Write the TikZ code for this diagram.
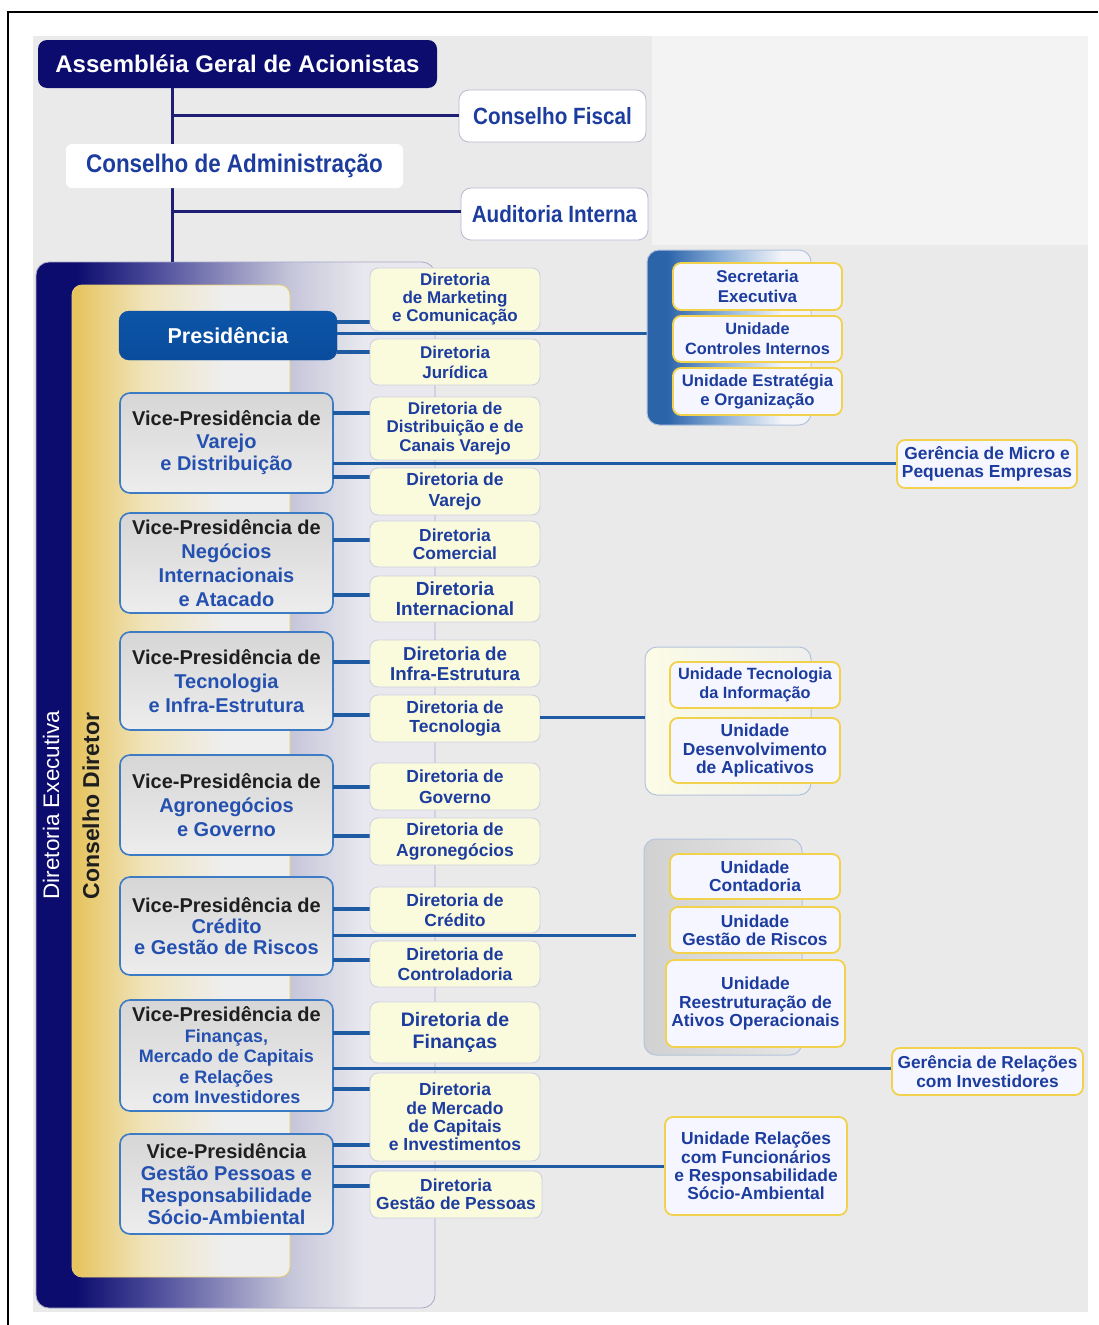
\documentclass[tikz,border=0pt]{standalone}
\usepackage{fontspec}
\setmainfont{Liberation Sans}
\newfontfamily\condsans[FakeStretch=0.88]{Liberation Sans}

\definecolor{bggray}{HTML}{EAEAEA}
\definecolor{bglight}{HTML}{F3F3F3}
\definecolor{navy}{HTML}{0C0C6E}
\definecolor{navymid}{HTML}{5454A0}
\definecolor{lavender}{HTML}{C6C6DA}
\definecolor{execlight}{HTML}{E8E8EE}
\definecolor{execedge}{HTML}{A8A8C8}
\definecolor{gold}{HTML}{E6C460}
\definecolor{goldlight}{HTML}{F0E4BC}
\definecolor{goldedge}{HTML}{E8CC70}
\definecolor{panelgray}{HTML}{EEEEEE}
\definecolor{presblue}{HTML}{0C55A8}
\definecolor{presblueb}{HTML}{0A4C9C}
\definecolor{vpedge}{HTML}{3D7CC4}
\definecolor{vptop}{HTML}{D6D6D6}
\definecolor{vpbottom}{HTML}{EDEDED}
\definecolor{dircream}{HTML}{FAFADC}
\definecolor{diredge}{HTML}{D0D0E4}
\definecolor{unitfill}{HTML}{F5F6FF}
\definecolor{unitedge}{HTML}{F2D24C}
\definecolor{linkblue}{HTML}{1F5BA3}
\definecolor{trunknavy}{HTML}{1E1E74}
\definecolor{textblue}{HTML}{1C3C9E}
\definecolor{vpblue}{HTML}{2450B0}
\definecolor{vpblack}{HTML}{1E1E1E}
\definecolor{grpblue}{HTML}{2C64AA}
\definecolor{grpmid}{HTML}{8CB0D8}
\definecolor{grplight}{HTML}{F2F4F8}
\definecolor{grpedge}{HTML}{B4C4DC}
\definecolor{topedge}{HTML}{B8B8D0}

% panel shadings (25bp..75bp span the filled path)
\pgfdeclarehorizontalshading{execshade}{100bp}{color(0bp)=(navy); color(30bp)=(navy); color(41bp)=(navymid); color(57bp)=(lavender); color(66bp)=(execlight); color(100bp)=(execlight)}
\pgfdeclarehorizontalshading{cdshade}{100bp}{color(0bp)=(gold); color(26bp)=(gold); color(42bp)=(goldlight); color(60bp)=(panelgray); color(100bp)=(panelgray)}
\pgfdeclarehorizontalshading{secshade}{100bp}{color(0bp)=(grpblue); color(31bp)=(grpblue); color(48bp)=(grpmid); color(66bp)=(grplight); color(100bp)=(grplight)}

\tikzset{
  corners/.style args={#1/#2/#3/#4}{minimum width={(#3)-(#1)}, minimum height={(#4)-(#2)},
    at={({((#1)+(#3))/2},{((#2)+(#4))/2})}},
  fs/.style 2 args={font=\bfseries\fontsize{#1}{#2}\selectfont},
  basebox/.style={rectangle, inner sep=0pt, outer sep=0pt, align=center},
  asmbox/.style={basebox, fill=navy, rounded corners=9pt, text=white, fs={24}{26}},
  topbox/.style={basebox, fill=white, draw=topedge, line width=0.8pt, rounded corners=10pt,
    text=textblue, font=\condsans\bfseries\fontsize{23.5}{26}\selectfont},
  adminbox/.style={basebox, fill=white, rounded corners=6pt,
    text=textblue, font=\condsans\bfseries\fontsize{25.5}{28}\selectfont},
  execpanel/.style={basebox, shading=execshade, draw=execedge, line width=0.8pt, rounded corners=13pt},
  cdpanel/.style={basebox, shading=cdshade, draw=goldedge, line width=0.8pt, rounded corners=10pt},
  presbox/.style={basebox, top color=presblue, bottom color=presblueb, draw=presblueb,
    rounded corners=10pt, text=white, fs={21.5}{24}},
  vpbox/.style={basebox, top color=vptop, bottom color=vpbottom, draw=vpedge, line width=1.6pt,
    rounded corners=10pt, text=vpblue},
  dirbox/.style={basebox, fill=dircream, draw=diredge, line width=0.9pt, rounded corners=8pt,
    text=textblue},
  unitbox/.style={basebox, fill=unitfill, draw=unitedge, line width=1.8pt, rounded corners=8pt,
    text=textblue},
  grppanel/.style={basebox, draw=grpedge, line width=1pt, rounded corners=12pt},
  stub/.style={draw=linkblue, line width=3.5pt},
  linkline/.style={draw=linkblue, line width=3pt},
  trunk/.style={draw=trunknavy, line width=3pt},
  vphead/.style={text=vpblack},
}

\begin{document}
\begin{tikzpicture}[x=1pt,y=-1pt]
\useasboundingbox (0,0) rectangle (1098,1325);
\fill[white] (0,0) rectangle (1098,1325);
\draw[line width=2pt, black] (8,1325) -- (8,12) -- (1098,12);
\fill[bggray] (33,36) rectangle (1088,1312);
\fill[bglight] (652,36) rectangle (1088,245);

% governance at the top
\node[asmbox, corners=38/40/437/88] (asm) {Assembléia Geral de Acionistas};
\node[execpanel, corners=36/262/435/1308] (exec) {};
\node[cdpanel, corners=72/285/290/1277] (cd) {};

\coordinate (tfiscal) at (172,115);
\coordinate (taudit) at (172,211);
\draw[trunk] (asm.south -| tfiscal) -- (exec.north -| tfiscal);

\node[topbox, corners=459/90/646/142] (fiscal) {Conselho Fiscal};
\node[adminbox, corners=66/144/403/188] (admin) {Conselho de Administração};
\node[topbox, corners=461/188/648/240] (audit) {Auditoria Interna};
\draw[trunk] (tfiscal) -- (fiscal.west |- tfiscal);
\draw[trunk] (taudit) -- (audit.west |- taudit);

% side labels of the executive panels
\node[rotate=90, text=white, font=\fontsize{22.5}{24}\selectfont, inner sep=0pt] (dexlabel) at (51,805) {Diretoria Executiva};
\node[rotate=90, text=vpblack, fs={23}{24}, inner sep=0pt] (cdlabel) at (91,806) {Conselho Diretor};

% presidency and vice-presidencies
\node[presbox, corners=119/311/337/360] (pres) {Presidência};
\node[vpbox, corners=120/393/333/493, fs={20}{22.5}] (vp1) {{\color{vpblack}Vice-Presidência de}\\Varejo\\e Distribuição};
\node[vpbox, corners=120/513/333/613, fs={20}{24}] (vp2) {{\color{vpblack}Vice-Presidência de}\\Negócios\\Internacionais\\e Atacado};
\node[vpbox, corners=120/632/333/730, fs={20}{24}] (vp3) {{\color{vpblack}Vice-Presidência de}\\Tecnologia\\e Infra-Estrutura};
\node[vpbox, corners=120/755/333/855, fs={20}{24}] (vp4) {{\color{vpblack}Vice-Presidência de}\\Agronegócios\\e Governo};
\node[vpbox, corners=120/877/333/975, fs={20}{21}] (vp5) {{\color{vpblack}Vice-Presidência de}\\Crédito\\e Gestão de Riscos};
\node[vpbox, corners=120/1000/333/1111, fs={18}{20.5}] (vp6) {{\fontsize{20}{20.5}\selectfont\color{vpblack}Vice-Presidência de}\\Finanças,\\Mercado de Capitais\\e Relações\\com Investidores};
\node[vpbox, corners=120/1134/333/1234, fs={20}{22}] (vp7) {{\color{vpblack}Vice-Presidência}\\Gestão Pessoas e\\Responsabilidade\\Sócio-Ambiental};

% long links to staff units and managements
\draw[linkline] (pres.east |- 0,333) -- (647,333) coordinate (secin);
\draw[linkline] (vp1.east |- 0,463) -- (897,463) coordinate (microin);
\draw[linkline] (vp5.east |- 0,935) -- (636,935) coordinate (contin);
\draw[linkline] (vp6.east |- 0,1068) -- (892,1068) coordinate (relin);
\draw[linkline] (vp7.east |- 0,1166) -- (665,1166) coordinate (funcin);

% short links from vice-presidencies to directorates
\foreach \y in {322,352} \draw[stub] (pres.east |- 0,\y) -- (370,\y);
\foreach \y in {413,477} \draw[stub] (vp1.east |- 0,\y) -- (370,\y);
\foreach \y in {540,595} \draw[stub] (vp2.east |- 0,\y) -- (370,\y);
\foreach \y in {662,715} \draw[stub] (vp3.east |- 0,\y) -- (370,\y);
\foreach \y in {787,836} \draw[stub] (vp4.east |- 0,\y) -- (370,\y);
\foreach \y in {909,960} \draw[stub] (vp5.east |- 0,\y) -- (370,\y);
\foreach \y in {1033,1089} \draw[stub] (vp6.east |- 0,\y) -- (370,\y);
\foreach \y in {1145,1186} \draw[stub] (vp7.east |- 0,\y) -- (370,\y);

% directorates
\node[dirbox, corners=370/268/540/331, fs={17}{18}] (mkt) {Diretoria\\de Marketing\\e Comunicação};
\node[dirbox, corners=370/339/540/385, fs={17}{20}] (jur) {Diretoria\\Jurídica};
\node[dirbox, corners=370/397/540/460, fs={17}{18.3}] (dist) {Diretoria de\\Distribuição e de\\Canais Varejo};
\node[dirbox, corners=370/468/540/515, fs={17.5}{20.5}] (var) {Diretoria de\\Varejo};
\node[dirbox, corners=370/521/540/567, fs={17.4}{17.8}] (com) {Diretoria\\Comercial};
\node[dirbox, corners=370/576/540/622, fs={19}{20}] (intl) {Diretoria\\Internacional};
\node[dirbox, corners=370/640/540/687, fs={18.7}{20}] (infra) {Diretoria de\\Infra-Estrutura};
\node[dirbox, corners=370/695/540/742, fs={17.5}{18.3}] (tec) {Diretoria de\\Tecnologia};
\node[dirbox, corners=370/763/540/810, fs={17.5}{20.5}] (gov) {Diretoria de\\Governo};
\node[dirbox, corners=370/818/540/865, fs={17.5}{20.3}] (agro) {Diretoria de\\Agronegócios};
\node[dirbox, corners=370/887/540/933, fs={17.5}{20}] (cred) {Diretoria de\\Crédito};
\node[dirbox, corners=370/941/540/987, fs={17.5}{20}] (ctrl) {Diretoria de\\Controladoria};
\node[dirbox, corners=370/1002/540/1063, fs={19.5}{22}] (fin) {Diretoria de\\Finanças};
\node[dirbox, corners=370/1073/540/1161, fs={17.5}{18.3}] (merc) {Diretoria\\de Mercado\\de Capitais\\e Investimentos};
\node[dirbox, corners=370/1171/542/1218, fs={17.4}{18.3}] (pess) {Diretoria\\Gestão de Pessoas};

% staff unit groups
\node[grppanel, shading=secshade, corners=647/250/811/425] (g1) {};
\node[grppanel, left color=dircream!70!white, right color=panelgray, corners=645/647/811/795] (g2) {};
\node[grppanel, left color=black!18, right color=black!10, corners=644/839/802/1055] (g3) {};
\draw[linkline] (tec.east |- 0,717) -- (g2.west |- 0,717);

\node[unitbox, corners=673/263/842/310, fs={17}{20.5}] (sec) {Secretaria\\Executiva};
\node[unitbox, corners=673/316/842/362, fs={16.3}{20}] (ctl) {Unidade\\Controles Internos};
\node[unitbox, corners=673/368/842/415, fs={16.7}{18.3}] (est) {Unidade Estratégia\\e Organização};
\node[unitbox, corners=897/440/1077/488, fs={17.4}{18.3}] (micro) {Gerência de Micro e\\Pequenas Empresas};
\node[unitbox, corners=670/662/840/708, fs={16.3}{18.5}] (ti) {Unidade Tecnologia\\da Informação};
\node[unitbox, corners=670/718/840/783, fs={17.4}{18.3}] (dev) {Unidade\\Desenvolvimento\\de Aplicativos};
\node[unitbox, corners=670/854/840/899, fs={17.4}{17.5}] (cont) {Unidade\\Contadoria};
\node[unitbox, corners=670/907/840/953, fs={17.3}{18.3}] (risc) {Unidade\\Gestão de Riscos};
\node[unitbox, corners=666/960/845/1047, fs={17.4}{18.3}] (reest) {Unidade\\Reestruturação de\\Ativos Operacionais};
\node[unitbox, corners=892/1048/1083/1095, fs={17.3}{18.3}] (rel) {Gerência de Relações\\com Investidores};
\node[unitbox, corners=665/1117/847/1215, fs={17.4}{18.3}] (func) {Unidade Relações\\com Funcionários\\e Responsabilidade\\Sócio-Ambiental};
\end{tikzpicture}
\end{document}
